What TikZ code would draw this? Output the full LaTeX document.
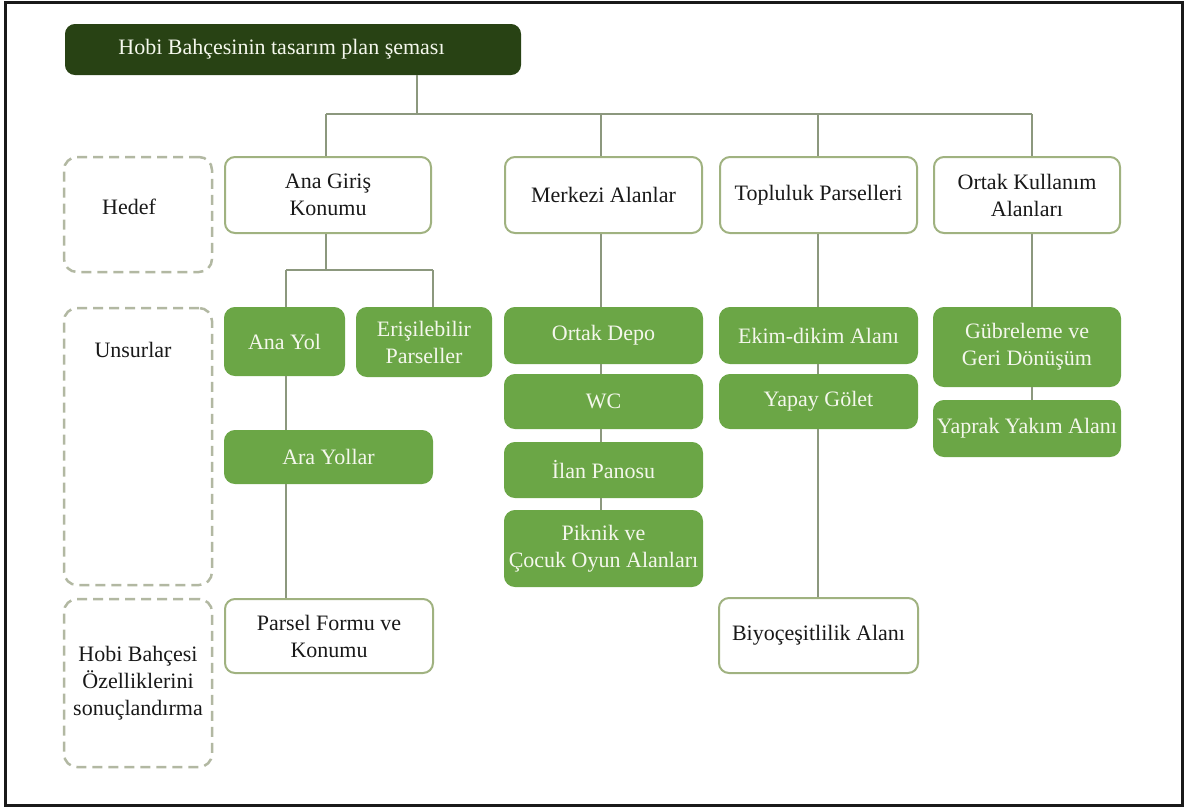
\documentclass[tikz,border=0pt]{standalone}
\usepackage{fontspec}
\setmainfont{Liberation Serif}
\usetikzlibrary{positioning}
\definecolor{gfill}{RGB}{107,166,70}
\definecolor{tfill}{RGB}{40,66,20}
\definecolor{wedge}{RGB}{160,178,128}
\definecolor{conncol}{RGB}{140,152,126}
\definecolor{dashcol}{RGB}{178,184,162}
\definecolor{gtext}{RGB}{244,247,236}
\definecolor{btext}{RGB}{25,25,25}
\tikzset{
  base/.style={font=\fontsize{22}{27}\selectfont, align=center, inner sep=0pt, rounded corners=10pt, line width=2pt},
  whitebox/.style={base, draw=wedge, fill=white, text=btext},
  greenbox/.style={base, draw=gfill, fill=gfill, text=gtext},
  titlebox/.style={base, draw=tfill, fill=tfill, text=gtext, rounded corners=9pt},
  dashbox/.style={draw=dashcol, line width=2.5pt, dash pattern=on 10pt off 6pt, rounded corners=13pt, inner sep=0pt, minimum width=148pt, font=\fontsize{22}{27}\selectfont, align=center, text=btext},
  conn/.style={draw=conncol, line width=1.8pt},
  sz/.style 2 args={minimum width=#1pt, minimum height=#2pt}
}
\begin{document}
\begin{tikzpicture}[x=1pt,y=-1pt]
\useasboundingbox (0,0) rectangle (1187,807);
\draw[line width=3pt, draw=black!90] (5,2.5) rectangle (1182,805.5);

% title
\node[titlebox, sz={454}{49}] (title) at (293,49.5) {\hspace*{-23pt}Hobi Bahçesinin tasarım plan şeması};

% level labels (dashed)
\node[dashbox, minimum height=115pt, label={[anchor=center, xshift=-9pt, yshift=7.5pt, font=\fontsize{22}{27}\selectfont, text=btext]center:Hedef}] (hedef) at (138,214.5) {};
\node[dashbox, minimum height=277pt, label={[anchor=center, xshift=-5pt, yshift=-43pt, font=\fontsize{22}{27}\selectfont, text=btext]north:Unsurlar}] (unsurlar) at (138,446.5) {};
\node[dashbox, minimum height=168pt] (sonuc) at (138,683) {\raisebox{-7pt}{\parbox{148pt}{\centering Hobi Bahçesi\\Özelliklerini\\sonuçlandırma}}};

% level 1
\node[whitebox, sz={206}{76}] (anagiris) at (328,195) {Ana Giriş\\Konumu};
\node[whitebox, sz={197}{76}] (merkezi) at (603.5,195) {Merkezi Alanlar};
\node[whitebox, sz={197}{76}] (topluluk) at (818.5,195) {Topluluk Parselleri};
\node[whitebox, sz={186}{76}] (ortakk) at (1027,195) {Ortak Kullanım\\Alanları};

% column 1
\node[greenbox, sz={119}{67}] (anayol) at (284.5,341.5) {Ana Yol};
\node[greenbox, sz={134}{68}] (erisilebilir) at (424,342) {Erişilebilir\\Parseller};
\node[greenbox, sz={207}{52}] (arayollar) at (328.5,457) {Ara Yollar};
\node[whitebox, sz={208}{74}] (parsel) at (329,636) {Parsel Formu ve\\Konumu};

% column 2
\node[greenbox, sz={197}{55}] (ortakdepo) at (603.5,335.5) {Ortak Depo};
\node[greenbox, sz={197}{53}] (wc) at (603.5,401.5) {WC};
\node[greenbox, sz={197}{54}] (ilan) at (603.5,470) {İlan Panosu};
\node[greenbox, sz={197}{75}] (piknik) at (603.5,548.5) {Piknik ve\\Çocuk Oyun Alanları};

% column 3
\node[greenbox, sz={197}{55}] (ekim) at (818.5,335.5) {Ekim-dikim Alanı};
\node[greenbox, sz={197}{53}] (yapay) at (818.5,401.5) {Yapay Gölet};
\node[whitebox, sz={199}{75}] (biyo) at (818.5,635.5) {Biyoçeşitlilik Alanı};

% column 4
\node[greenbox, sz={186}{78}] (gubre) at (1027,347) {Gübreleme ve\\Geri Dönüşüm};
\node[greenbox, sz={186}{55}] (yaprak) at (1027,428.5) {Yaprak Yakım Alanı};

% connectors
\coordinate (tj) at (417,114);
\coordinate (b1) at (326,114);
\coordinate (b2) at (601,114);
\coordinate (b3) at (818,114);
\coordinate (b4) at (1032,114);
\draw[conn] (title.south -| tj) -- (tj);
\draw[conn] (b1) -- (b4);
\draw[conn] (b1) -- (anagiris.north -| b1);
\draw[conn] (b2) -- (merkezi.north -| b2);
\draw[conn] (b3) -- (topluluk.north -| b3);
\draw[conn] (b4) -- (ortakk.north -| b4);

\coordinate (s0) at (326,270);
\coordinate (s1) at (286,270);
\coordinate (s2) at (433,270);
\draw[conn] (anagiris.south -| s0) -- (s0);
\draw[conn] (s1) -- (s2);
\draw[conn] (s1) -- (anayol.north -| s1);
\draw[conn] (s2) -- (erisilebilir.north -| s2);
\draw[conn] (anayol.south -| s1) -- (arayollar.north -| s1);
\draw[conn] (arayollar.south -| s1) -- (parsel.north -| s1);

\draw[conn] (merkezi.south -| b2) -- (ortakdepo.north -| b2);
\draw[conn] (ortakdepo.south -| b2) -- (wc.north -| b2);
\draw[conn] (wc.south -| b2) -- (ilan.north -| b2);
\draw[conn] (ilan.south -| b2) -- (piknik.north -| b2);

\draw[conn] (topluluk.south -| b3) -- (ekim.north -| b3);
\draw[conn] (ekim.south -| b3) -- (yapay.north -| b3);
\draw[conn] (yapay.south -| b3) -- (biyo.north -| b3);

\draw[conn] (ortakk.south -| b4) -- (gubre.north -| b4);
\draw[conn] (gubre.south -| b4) -- (yaprak.north -| b4);
\end{tikzpicture}
\end{document}
